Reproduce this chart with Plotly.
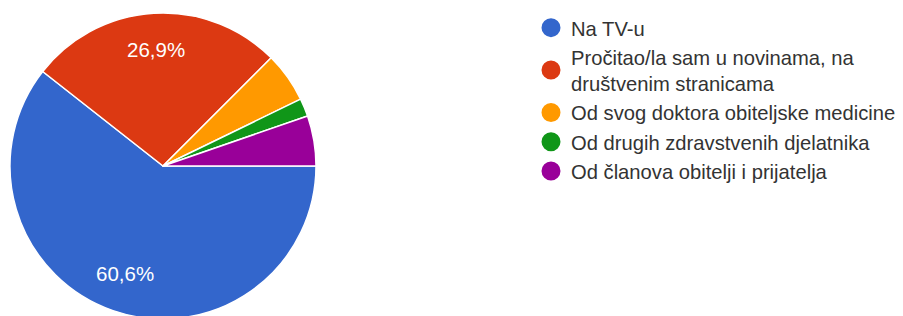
import math
import plotly.graph_objects as go

labels = [
    "Na TV-u",
    "Pročitao/la sam u novinama, na<br>društvenim stranicama",
    "Od svog doktora obiteljske medicine",
    "Od drugih zdravstvenih djelatnika",
    "Od članova obitelji i prijatelja",
]
values = [60.6, 26.9, 5.3, 1.9, 5.3]
colors = ["#3366CC", "#DC3912", "#FF9900", "#109618", "#990099"]

FONT = "Liberation Sans, Arial, sans-serif"
W, H = 903, 316
DOM_X = [2 / W, 308 / W]
DOM_Y = [0, 1]

fig = go.Figure()
fig.add_trace(go.Pie(
    labels=labels,
    values=values,
    textinfo="none",
    marker=dict(colors=colors, line=dict(color="white", width=1.5)),
    sort=False,
    direction="clockwise",
    rotation=90,
    showlegend=False,
    hoverinfo="label+percent",
    domain=dict(x=DOM_X, y=DOM_Y),
))

# percentage labels for the large slices, placed along each slice's mid-angle
total = sum(values)
cx = (DOM_X[0] + DOM_X[1]) / 2
cy = (DOM_Y[0] + DOM_Y[1]) / 2
radius_px = min((DOM_X[1] - DOM_X[0]) * W, (DOM_Y[1] - DOM_Y[0]) * H) / 2
label_r = 0.755 * radius_px
cum = 0.0
for v in values:
    frac = v / total
    mid = cum + frac / 2
    cum += frac
    if frac < 0.10:
        continue
    ang = 2 * math.pi * mid  # clockwise from 3 o'clock
    px = label_r * math.cos(ang)
    py = -label_r * math.sin(ang)
    fig.add_annotation(
        x=cx + px / W, y=cy + py / H + 1.5 / H, xref="paper", yref="paper",
        text=f"{frac * 100:.1f}%".replace(".", ","), showarrow=False,
        font=dict(family=FONT, size=20.5, color="white"),
        xanchor="center", yanchor="middle",
    )

for lab, col in zip(labels, colors):
    fig.add_trace(go.Scatter(
        x=[None], y=[None], mode="markers", name=lab,
        marker=dict(symbol="circle", size=16, color=col, line=dict(color=col, width=3)),
    ))

fig.update_layout(
    width=W, height=H,
    margin=dict(l=0, r=0, t=0, b=0),
    paper_bgcolor="white", plot_bgcolor="white",
    separators=",.",
    xaxis=dict(visible=False), yaxis=dict(visible=False),
    legend=dict(
        x=523 / W, xanchor="left", y=1.0, yanchor="top",
        font=dict(family=FONT, size=20.2, color="#333333"),
        bgcolor="rgba(0,0,0,0)", itemclick=False,
    ),
)

fig.write_html("out.html")
